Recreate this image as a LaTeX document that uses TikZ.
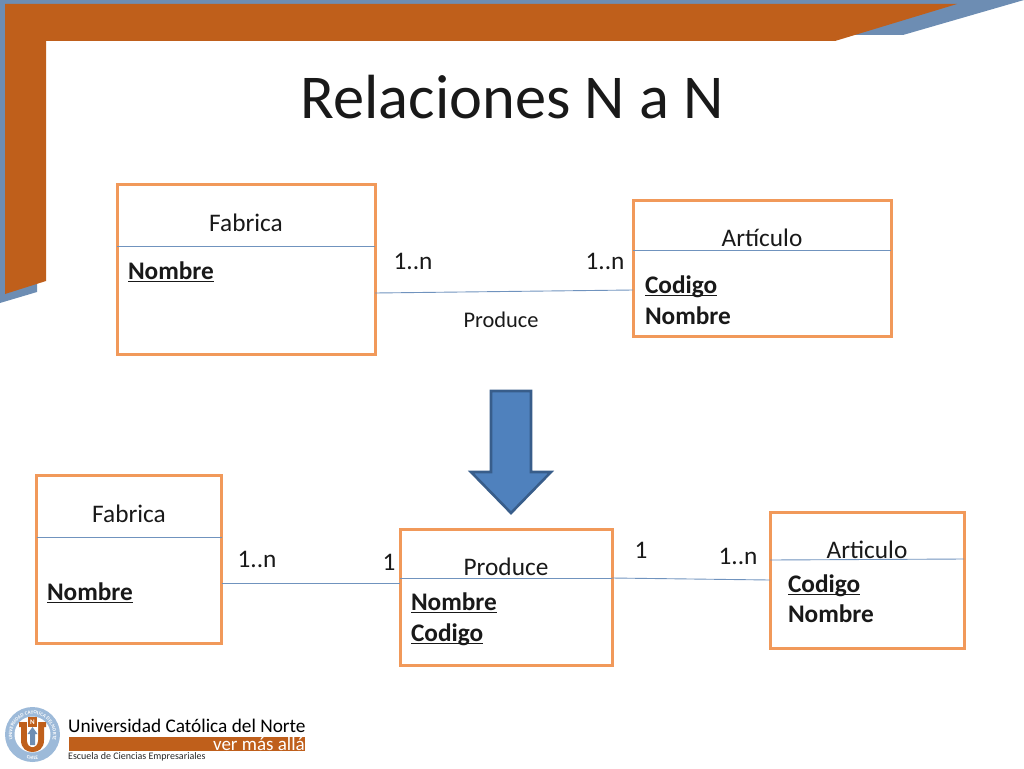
\documentclass[tikz,border=0pt]{standalone}
\usepackage{fontspec}
\setmainfont{Carlito}
\usetikzlibrary{calc,decorations.text}
\definecolor{deco}{HTML}{BF5F1B}
\definecolor{decoblue}{HTML}{6D8DB3}
\definecolor{boxline}{HTML}{F1995A}
\definecolor{rel}{HTML}{7093BE}
\definecolor{arrowfill}{HTML}{4F81BD}
\definecolor{arrowline}{HTML}{385D8A}
\definecolor{logoblue}{HTML}{9DBAD9}
\newcommand{\fsz}[1]{\fontsize{#1}{#1}\selectfont}
\newcommand{\ulin}[1]{\setbox0\hbox{#1}\rlap{\rule[-3.4pt]{\wd0}{1.7pt}}\box0}
\tikzset{
  x=1pt,y=-1pt,
  ent/.style={draw=boxline,line width=3pt,fill=white,inner sep=0pt,outer sep=0pt},
  rule/.style={draw=rel,line width=0.9pt},
  txt/.style={inner sep=0pt,outer sep=0pt,font=\fsz{25.3},text=black!90},
  attr/.style={txt,anchor=base west,font=\fsz{25.3}\bfseries},
}
\begin{document}
\begin{tikzpicture}
\useasboundingbox (0,0) rectangle (1024,768);
% decoration
\fill[decoblue] (0,0) -- (1024,0) -- (903,35) -- (850,35) -- (850,10) -- (5,4) -- (5,285) -- (37,284) -- (37,292) -- (0,303) -- cycle;
\fill[deco] (5,4) -- (957,4) -- (835,41) -- (46,41) -- (46,281) -- (5,294) -- cycle;
% title
\node[inner sep=0pt,font=\fsz{62.4},text=black!90] (title) at (512,97) {Relaciones N a N};
% top boxes
\node[ent,minimum width=258pt,minimum height=170pt] (fab1) at (246,269) {};
\node[ent,minimum width=258pt,minimum height=136pt] (art1) at (762,268) {};
\draw[rule] (fab1.west |- 0,246) -- (fab1.east |- 0,246);
\draw[rule] (art1.west |- 0,250) -- (art1.east |- 0,250);
\node[txt] (fab1t) at (246,223) {Fabrica};
\node[txt] (art1t) at (762,238) {Artículo};
\node[attr] (fab1a) at (128,279) {\ulin{Nombre}};
\node[attr] (art1a) at (645,293) {\ulin{Codigo}};
\node[attr] (art1b) at (645,324) {Nombre};
\draw[rule] ([yshift=-24pt]fab1.east) -- ([yshift=-22pt]art1.west);
\node[txt] (l1) at (413,261) {1..n};
\node[txt] (l2) at (605,261) {1..n};
\node[txt,font=\fsz{22.4}] (prod1) at (501,319.5) {Produce};
% arrow
\path[draw=arrowline,fill=arrowfill,line width=2.6pt,line join=miter] (491,391) -- (531,391) -- (531,472) -- (551,472) -- (511,513) -- (471,472) -- (491,472) -- cycle;
% bottom boxes
\node[ent,minimum width=185pt,minimum height=168pt] (fab2) at (129,559) {};
\node[ent,minimum width=212pt,minimum height=136pt] (pro2) at (506,597) {};
\node[ent,minimum width=194pt,minimum height=136pt] (art2) at (867,580) {};
\draw[rule] (fab2.west |- 0,537) -- (fab2.east |- 0,537);
\draw[rule] (pro2.west |- 0,578) -- (pro2.east |- 0,578);
\draw[rule] (art2.west |- 0,560) -- (art2.east |- 0,559);
\node[txt] (fab2t) at (129,514) {Fabrica};
\node[txt] (pro2t) at (506,567) {Produce};
\node[txt] (art2t) at (867,550) {Articulo};
\node[attr] (fab2a) at (47,600) {\ulin{Nombre}};
\node[attr] (pro2a) at (411,610) {\ulin{Nombre}};
\node[attr] (pro2b) at (411,641) {\ulin{Codigo}};
\node[attr] (art2a) at (788,592) {\ulin{Codigo}};
\node[attr] (art2b) at (788,622) {Nombre};
\draw[rule] ([yshift=-24pt]fab2.east) -- ([yshift=14pt]pro2.west);
\draw[rule] ([yshift=19pt]pro2.east) -- (art2.west);
\node[txt] (l3) at (257,559) {1..n};
\node[txt] (l4) at (389,562) {1};
\node[txt] (l5) at (641,550) {1};
\node[txt] (l6) at (738,556) {1..n};
% logo
\fill[logoblue] (32.5,734.5) circle (27.5);
\fill[white] (32.5,734.5) circle (18);
\path[decorate,decoration={text along path,text align=center,text={|\bfseries\fsz{5}\color{white}|UNIVERSIDAD CATOLICA DEL NORTE}}] (16.8,747.7) arc[start angle=140,end angle=400,radius=20.5];
\path[decorate,decoration={text along path,text align=center,text={|\bfseries\fsz{5}\color{white}|CHILE}}] (18.2,755) arc[start angle=125,end angle=55,radius=25];
\fill[deco] (19,722) -- (46,722) -- (46,727) -- (44,727) -- (44,740) .. controls (44,749) and (38,752) .. (32.5,752) .. controls (27,752) and (21,749) .. (21,740) -- (21,727) -- (19,727) -- cycle;
\fill[white] (27,722) -- (38,722) -- (38,740) .. controls (38,745) and (35,747) .. (32.5,747) .. controls (30,747) and (27,745) .. (27,740) -- cycle;
\fill[deco] (28,717) rectangle (37,727);
\node[inner sep=0pt,font=\bfseries\fsz{7},text=white] (logoN) at (32.5,722) {N};
\fill[decoblue] (32.5,727) -- (37.5,734) -- (35,734) -- (35,745) -- (30,745) -- (30,734) -- (27.5,734) -- cycle;
\node[inner sep=0pt,anchor=base west,font=\fsz{19.3},text=black] (uni) at (68,732.5) {Universidad Católica del Norte};
\fill[deco] (69,737) rectangle (305,751);
\node[inner sep=0pt,anchor=base east,font=\fsz{19},text=white] (ver) at (305,750) {ver más allá};
\node[inner sep=0pt,anchor=base west,font=\fsz{10},text=black!85] (esc) at (68,759.5) {Escuela de Ciencias Empresariales};
\end{tikzpicture}
\end{document}
